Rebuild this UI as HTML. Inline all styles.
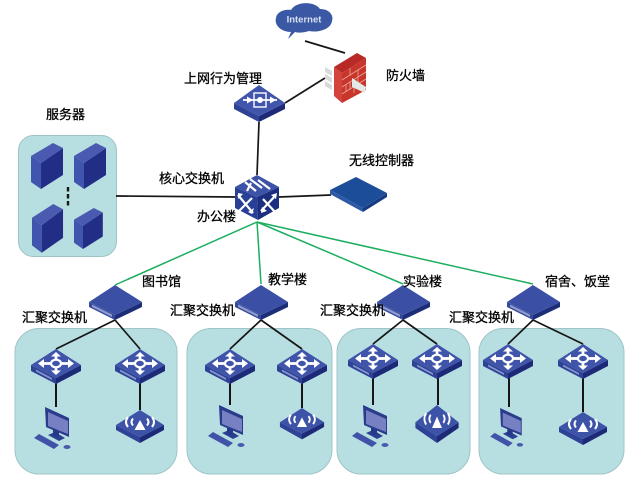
<!DOCTYPE html>
<html><head><meta charset="utf-8"><style>
html,body{margin:0;padding:0;background:#fff}
svg{display:block}
text{font-family:"Liberation Sans","Noto Sans CJK SC",sans-serif;font-size:13px;fill:#000;stroke:#000;stroke-width:.3}
</style></head><body>
<svg width="640" height="486" viewBox="0 0 640 486" xmlns="http://www.w3.org/2000/svg">
<defs>
<filter id="b" x="-5%" y="-5%" width="110%" height="110%"><feGaussianBlur stdDeviation="0.3"/></filter>
<g id="sw">
<polygon points="-25,16 0,29 0,35 -25,22" fill="#2f4296"/>
<polygon points="25,16 0,29 0,35 25,22" fill="#1e2c78"/>
<polygon points="0,0 25,16 0,29 -25,16" fill="#3f54aa"/>
<polygon points="-20,20.500 -4,29 -4,31 -20,22.500" fill="#8593cc"/>
<g stroke="#fff" stroke-width="2.800" fill="none"><line x1="-13" y1="14.500" x2="-6" y2="14.500"/><line x1="6" y1="14.500" x2="13" y2="14.500"/><line x1="0" y1="6" x2="0" y2="10"/><line x1="0" y1="19" x2="0" y2="23"/><ellipse cx="0" cy="14.500" rx="5" ry="3.800" stroke-width="2.200"/></g>
<g fill="#fff"><polygon points="-18,14.500 -12,10 -12,19"/><polygon points="18,14.500 12,10 12,19"/><polygon points="0,3 -5,7.500 5,7.500"/><polygon points="0,26 -5,21.500 5,21.500"/></g>
</g>
<g id="agg">
<polygon points="-26,17 0,30 0,35 -26,22" fill="#35489a"/>
<polygon points="27,17 0,30 0,35 27,22" fill="#1f2d78"/>
<polygon points="0,0 27,17 0,30 -26,17" fill="#3b4fa5"/>
<polygon points="-23,19.500 -3,29.500 -3,32 -23,22" fill="#8e9ad0"/>
</g>
<g id="ap">
<polygon points="-24,15 0,27 0,33 -24,20" fill="#2f4296"/>
<polygon points="24,15 0,27 0,33 24,20" fill="#1e2c78"/>
<polygon points="0,0 24,15 0,27 -24,15" fill="#3d52a8"/>
<polygon points="0,10 -5.500,20 5.500,20" fill="#fff"/>
<g stroke="#fff" stroke-width="2" fill="none"><path d="M-7,8.500 Q-10,12 -7,15.500"/><path d="M7,8.500 Q10,12 7,15.500"/><path d="M-12,7 Q-16,12 -12,17"/><path d="M12,7 Q16,12 12,17"/></g>
</g>
<g id="pc">
<polygon points="-22,31 -17,27 3,38 -2,42" fill="#3f52a8"/>
<polygon points="-8,28 -1,25 9,31 3,34" fill="#2c3f90"/>
<polygon points="-3,20 3,22 3,30 -3,29" fill="#28378a"/>
<polygon points="-11,0 13,11 13,30 -10,20" fill="#2c3a8c"/>
<polygon points="-8,5 12,14 12,27 -8,19" fill="#7680c2"/>
<ellipse cx="11" cy="40" rx="3.500" ry="2" fill="#4a5cab"/>
</g>
<g id="srv">
<polygon points="0,13 10,20 10,46 0,39" fill="#4354ae"/>
<polygon points="10,20 32,5 32,32 10,46" fill="#232e85"/>
<polygon points="22,0 32,5 10,20 0,13" fill="#4a5ab0"/>
</g>
</defs>
<g filter="url(#b)">
<!-- panels -->
<g fill="#b7dfe2" stroke="#9fc4c6" stroke-width="1">
<rect x="18.500" y="135.500" width="98" height="121" rx="15"/>
<rect x="15" y="328.500" width="162" height="145.500" rx="24"/>
<rect x="187" y="328.500" width="145" height="145.500" rx="24"/>
<rect x="337" y="328.500" width="133" height="145.500" rx="24"/>
<rect x="479" y="328.500" width="145" height="145.500" rx="24"/>
</g>
<!-- green -->
<g stroke="#1fae5f" stroke-width="1.500" fill="none">
<line x1="257" y1="222" x2="115" y2="285"/>
<line x1="257" y1="222" x2="261" y2="284"/>
<line x1="257" y1="222" x2="403" y2="284"/>
<line x1="257" y1="222" x2="533" y2="284"/>
</g>
<!-- black -->
<g stroke="#141414" stroke-width="1.700" fill="none">
<line x1="305" y1="41" x2="345" y2="53"/>
<line x1="285" y1="103" x2="325" y2="78"/>
<line x1="259" y1="122" x2="257" y2="175"/>
<line x1="116" y1="196" x2="236" y2="197"/>
<line x1="279" y1="197" x2="331" y2="195"/>
<line x1="115" y1="320" x2="56" y2="349"/><line x1="115" y1="320" x2="140" y2="349"/>
<line x1="261" y1="320" x2="230" y2="349"/><line x1="261" y1="320" x2="302" y2="349"/>
<line x1="403" y1="320" x2="373" y2="344"/><line x1="403" y1="320" x2="437" y2="344"/>
<line x1="533" y1="320" x2="508" y2="344"/><line x1="533" y1="320" x2="583" y2="344"/>
<g stroke-width="2">
<line x1="56" y1="383" x2="56" y2="407"/><line x1="140" y1="383" x2="140" y2="410"/>
<line x1="230" y1="383" x2="230" y2="405"/><line x1="302" y1="383" x2="302" y2="408"/>
<line x1="373" y1="378" x2="373" y2="405"/><line x1="438" y1="378" x2="438" y2="405"/>
<line x1="509" y1="378" x2="509" y2="407"/><line x1="583" y1="378" x2="583" y2="412"/>
</g>
<line x1="68" y1="187" x2="68" y2="207" stroke-width="2.400" stroke-dasharray="4.500 2.500"/>
</g>
<!-- Internet -->
<path d="M288,39 L291,32 C281,32 274,25 276,18 C277,11 286,9 291,10 C296,1 315,1 320,9 C329,9 334,15 332,21 C331,29 319,33 309,31 C303,33 298,33 295,32 Z" fill="#3b58a4"/>
<text x="304" y="22.500" text-anchor="middle" style="font-size:9.500px;font-weight:bold;fill:#d8e0f2;stroke:none">Internet</text>
<!-- firewall -->
<g fill="#d6dadb"><polygon points="325,67 332,71 332,76 325,72"/><polygon points="325,74 332,78 332,83 325,79"/><polygon points="325,81 332,85 332,90 325,86"/></g>
<polygon points="334,67 342,73 342,103 334,96" fill="#d4423a"/>
<polygon points="342,73 366,58 366,90 342,103" fill="#c8352c"/>
<polygon points="334,67 357,53 366,58 342,73" fill="#b72c26"/>
<g stroke="#eaa79b" stroke-width=".8" fill="none"><path d="M342,80 L366,65 M342,87 L366,72 M342,94 L366,79"/><path d="M350,68 V75 M358,70 V77 M350,82 V89 M358,77 V84 M346,85 V92 M354,87 V93"/></g>
<polygon points="352,78 366,87 365,93 352,87" fill="#e4e8e7"/>
<!-- behavior mgmt -->
<polygon points="234,103 259,116 259,122 234,109" fill="#2f4296"/>
<polygon points="285,103 259,116 259,122 285,109" fill="#1e2c78"/>
<polygon points="259,85 285,103 259,116 234,103" fill="#3f55ab"/>
<rect x="254" y="93" width="12" height="14" fill="none" stroke="#fff" stroke-width="1.400"/>
<g stroke="#fff" stroke-width="1.700"><line x1="243" y1="100" x2="277" y2="100"/></g>
<g fill="#fff"><polygon points="253,100 247,96.500 247,103.500"/><polygon points="276,100 270,96.500 270,103.500"/><circle cx="260" cy="100" r="3"/></g>
<!-- core -->
<polygon points="235,187 257,197 258,220 235,208" fill="#2c4096"/>
<polygon points="279,187 257,197 258,220 279,208" fill="#1f2e80"/>
<polygon points="257,175 279,187 257,197 235,187" fill="#3d52a8"/>
<g stroke="#fff" stroke-width="2.200" fill="none">
<path d="M245,182 L256,191 M250,179 L262,188 M258,180 L270,189 M247,191 L251,183"/>
<path d="M238,195 L253,213 M238,212 L252,198"/>
<path d="M261,211 L276,195 M263,199 L275,212"/>
</g>
<g fill="#fff"><polygon points="238,193 243,194 238,199"/><polygon points="252,214 254,208 248,212"/><polygon points="277,193 271,195 276,199"/><polygon points="261,213 267,211 262,207"/></g>
<!-- AC -->
<polygon points="330,190 363,208 363,212 330,194" fill="#2d5aa5"/>
<polygon points="387,193 363,208 363,212 387,197" fill="#173b80"/>
<polygon points="356,177 387,193 363,208 330,190" fill="#1f4d98"/>
<!-- servers -->
<use href="#srv" x="31" y="143"/>
<use href="#srv" x="74" y="143"/>
<use href="#srv" transform="translate(32,204) scale(.97,1.060)"/>
<use href="#srv" transform="translate(74,208) scale(.9,.89)"/>
<!-- agg -->
<use href="#agg" x="115" y="285"/>
<use href="#agg" x="261" y="285"/>
<use href="#agg" x="403" y="285"/>
<use href="#agg" x="533" y="285"/>
<!-- switches -->
<use href="#sw" x="56" y="349"/><use href="#sw" x="140" y="349"/>
<use href="#sw" x="230" y="349"/><use href="#sw" x="302" y="349"/>
<use href="#sw" x="373" y="344"/><use href="#sw" x="437" y="344"/>
<use href="#sw" x="508" y="344"/><use href="#sw" x="583" y="344"/>
<!-- PCs -->
<use href="#pc" x="56" y="407"/><use href="#pc" x="230" y="405"/>
<use href="#pc" x="374" y="405"/>
<use href="#pc" transform="translate(510,408) scale(.9,.92)"/>
<!-- APs -->
<use href="#ap" x="140" y="410"/>
<use href="#ap" transform="translate(302,408) scale(.92,.95)"/>
<use href="#ap" transform="translate(437,405) scale(.9,1.150)"/>
<use href="#ap" x="583" y="412"/>
<!-- labels -->
<text x="184" y="83">上网行为管理</text>
<text x="386" y="80">防火墙</text>
<text x="349" y="165">无线控制器</text>
<text x="159" y="183">核心交换机</text>
<text x="197" y="221">办公楼</text>
<text x="46" y="119">服务器</text>
<text x="142" y="286">图书馆</text>
<text x="268" y="284">教学楼</text>
<text x="403" y="286">实验楼</text>
<text x="545" y="286">宿舍、饭堂</text>
<text x="22" y="322">汇聚交换机</text>
<text x="170" y="315">汇聚交换机</text>
<text x="320" y="315">汇聚交换机</text>
<text x="449" y="322">汇聚交换机</text>
</g>
</svg>
</body></html>
